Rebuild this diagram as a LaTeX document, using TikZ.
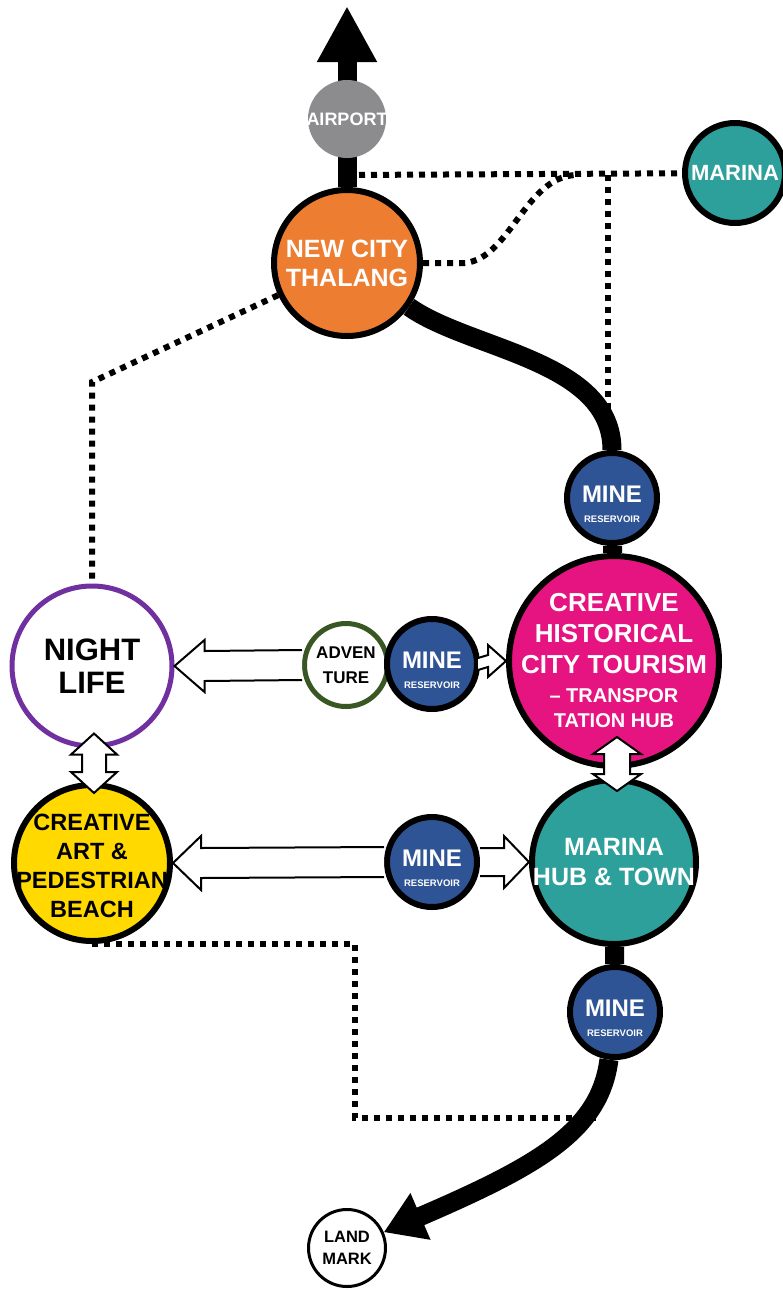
\documentclass[tikz,border=0pt]{standalone}
\usepackage{fontspec}
\setmainfont{Liberation Sans}
\usetikzlibrary{arrows.meta,calc,backgrounds}

\definecolor{thorange}{RGB}{237,125,49}
\definecolor{airgray}{RGB}{140,140,142}
\definecolor{seateal}{RGB}{46,160,155}
\definecolor{mineblue}{RGB}{47,84,150}
\definecolor{hubpink}{RGB}{230,20,128}
\definecolor{beachyellow}{RGB}{255,217,0}
\definecolor{nightpurple}{RGB}{112,48,160}
\definecolor{advgreen}{RGB}{56,87,35}

\begin{document}
\begin{tikzpicture}[x=1bp,y=-1bp,
    place/.style={circle,draw=black,line width=6bp,inner sep=0pt},
    tag/.style={align=center,text=white,inner sep=0pt},
    mine/.style={place,fill=mineblue,minimum size=90bp,
      label={[tag,yshift=-6bp,font=\bfseries\fontsize{24bp}{20bp}\selectfont]center:{MINE\\{\fontsize{9.5bp}{10bp}\selectfont RESERVOIR}}}},
    road/.style={line width=19bp,black},
    trail/.style={line width=6bp,dash pattern=on 6bp off 6bp,black},
    hollow/.style={draw=black,fill=white,line width=2bp,line join=miter}]
  \useasboundingbox (0,0) rectangle (783,1290);

  \node[place,draw=none,fill=airgray,minimum size=78bp,
    label={[tag,font=\bfseries\fontsize{18bp}{20bp}\selectfont]center:AIRPORT}] (airport) at (347,119) {};
  \node[place,fill=thorange,minimum size=146bp,
    label={[tag,font=\bfseries\fontsize{25bp}{29bp}\selectfont]center:{NEW CITY\\THALANG}}] (newcity) at (347,263) {};
  \node[place,fill=seateal,minimum size=100bp,
    label={[tag,font=\bfseries\fontsize{22bp}{26bp}\selectfont]center:MARINA}] (marina) at (735,173) {};
  \node[mine] (mine1) at (612,498) {};
  \node[place,fill=hubpink,minimum size=210bp,
    label={[tag,font=\bfseries\fontsize{26bp}{31bp}\selectfont]center:{CREATIVE\\HISTORICAL\\CITY TOURISM\\[-2bp]{\fontsize{20bp}{24bp}\selectfont – TRANSPOR}\\[-6bp]{\fontsize{20bp}{24bp}\selectfont TATION HUB}}}] (creative) at (614,661) {};
  \node[place,draw=nightpurple,line width=5bp,fill=white,minimum size=160bp,
    label={[tag,text=black,font=\bfseries\fontsize{31bp}{33bp}\selectfont]center:{NIGHT\\LIFE}}] (night) at (92,666) {};
  \node[place,draw=advgreen,line width=5bp,fill=white,minimum size=83bp,
    label={[tag,text=black,font=\bfseries\fontsize{17bp}{25bp}\selectfont]center:{ADVEN\\TURE}}] (advent) at (346,665) {};
  \node[mine] (mine2) at (432,664) {};
  \node[place,fill=beachyellow,minimum size=156bp,
    label={[tag,text=black,yshift=-3bp,font=\bfseries\fontsize{23.5bp}{29bp}\selectfont]center:{CREATIVE\\ART \&\\PEDESTRIAN\\BEACH}}] (art) at (92,863) {};
  \node[mine] (mine3) at (432,862) {};
  \node[place,fill=seateal,minimum size=164bp,
    label={[tag,font=\bfseries\fontsize{25bp}{30bp}\selectfont]center:{MARINA\\HUB \& TOWN}}] (hub) at (614,862) {};
  \node[mine] (mine4) at (615,1012) {};
  \node[place,line width=3bp,fill=white,minimum size=77bp,
    label={[tag,text=black,font=\bfseries\fontsize{16.5bp}{22bp}\selectfont]center:{LAND\\MARK}}] (landmark) at (347,1248) {};

  \coordinate (north) at (347,6);
  \coordinate (fork) at (347,175);
  \coordinate (tee) at (608,175);
  \coordinate (teeend) at (608,412);
  \coordinate (join) at (575,175);
  \coordinate (bend) at (92,382);
  \coordinate (corner) at (355,1118);
  \coordinate (trailend) at (602,1118);

  \begin{scope}[on background layer]
    \draw[trail] (fork) -- (marina);
    \draw[trail] (tee) -- (teeend);
    \draw[trail] (newcity.east) -- ++(42,0) .. controls (510,258) and (525,178) .. (join);
    \draw[trail] (newcity) -- (bend) -- (night);
    \draw[trail] (art.south) -| (corner) -- (trailend);

    \draw[road,-{Triangle[length=56bp,width=56bp]}] (newcity) -- (north);
    \draw[road] (newcity) .. controls (470,350) and (612,360) .. (mine1);
    \draw[road] (mine1) -- (creative);
    \draw[road] (hub) -- (mine4);
    \draw[road,-{Triangle[length=40bp,width=48bp]}] (mine4) .. controls (600,1130) and (540,1165) .. (landmark);
  \end{scope}

  % block arrows
  \draw[hollow] ($(advent.west)+(0,-15)$) -- ($(night.east)+(30,-15)$) -- ($(night.east)+(30,-26)$) -- (night.east)
    -- ($(night.east)+(30,26)$) -- ($(night.east)+(30,15)$) -- ($(advent.west)+(0,15)$);
  \draw[hollow] ($(mine2.east)+(-2,-6)$) -- ($(creative.west)+(-18,-6)$) -- ($(creative.west)+(-18,-16)$) -- (creative.west)
    -- ($(creative.west)+(-18,16)$) -- ($(creative.west)+(-18,6)$) -- ($(mine2.east)+(-2,6)$);
  \draw[hollow] ($(mine3.west)+(0,-15)$) -- ($(art.east)+(28,-15)$) -- ($(art.east)+(28,-27)$) -- (art.east)
    -- ($(art.east)+(28,27)$) -- ($(art.east)+(28,15)$) -- ($(mine3.west)+(0,15)$);
  \draw[hollow] ($(mine3.east)+(0,-14)$) -- ($(hub.west)+(-25,-14)$) -- ($(hub.west)+(-25,-26)$) -- (hub.west)
    -- ($(hub.west)+(-25,26)$) -- ($(hub.west)+(-25,14)$) -- ($(mine3.east)+(0,14)$);

  \coordinate (nt) at ($(night.south)+(2,-15)$);
  \coordinate (nb) at ($(art.north)+(2,11)$);
  \draw[hollow] (nt) -- ++(23,21) -- ++(-11,0) -- ($(nb)+(12,-21)$) -- ++(11,0) -- (nb) -- ++(-23,-21) -- ++(11,0)
    -- ($(nt)+(-12,21)$) -- ++(-11,0) -- cycle;
  \coordinate (ct) at ($(creative.south)+(3,-32)$);
  \coordinate (cb) at ($(hub.north)+(3,14)$);
  \draw[hollow] (ct) -- ++(24,17) -- ++(-11,0) -- ($(cb)+(13,-17)$) -- ++(11,0) -- (cb) -- ++(-24,-17) -- ++(11,0)
    -- ($(ct)+(-13,17)$) -- ++(-11,0) -- cycle;
\end{tikzpicture}
\end{document}
